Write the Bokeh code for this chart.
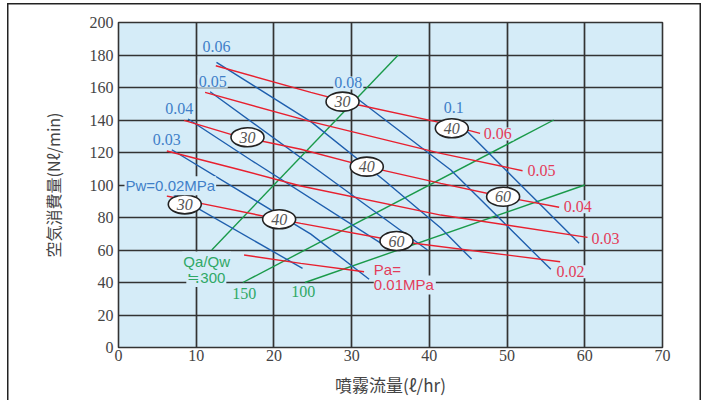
from bokeh.plotting import figure
from bokeh.models import SingleIntervalTicker, Range1d
from bokeh.embed import file_html
from bokeh.resources import INLINE
from bokeh.core.properties import value

# ---------------- data ----------------
# red lines: constant air pressure Pa (MPa)
red_06_x = [12.52, 24.75, 30.92, 40.83, 46.53]
red_06_y = [173.4, 157.0, 149.2, 139.0, 131.8]
red_05_x = [11.14, 24.75, 41.47, 51.99]
red_05_y = [157.0, 139.0, 119.5, 108.8]
red_04_x = [8.44, 14.67, 23.46, 31.95, 41.47, 49.49, 56.70]
red_04_y = [139.8, 130.8, 122.0, 111.3, 101.0, 92.8, 86.3]
red_03_x = [6.22, 15.74, 23.46, 41.47, 60.35]
red_03_y = [120.9, 109.2, 99.4, 81.5, 67.8]
red_02_x = [6.22, 10.59, 20.67, 23.46, 35.77, 56.83]
red_02_y = [93.2, 88.7, 78.9, 76.4, 65.5, 52.8]
red_01_x = [16.16, 23.46, 31.60]
red_01_y = [56.9, 51.8, 46.6]

# blue lines: constant water pressure Pw (MPa)
blue_02_x = [6.73, 23.68]
blue_02_y = [95.1, 48.7]
blue_03_x = [6.86, 24.75, 32.25]
blue_03_y = [121.7, 69.8, 42.0]
blue_04_x = [8.96, 17.02, 34.40]
blue_04_y = [140.6, 115.4, 62.2]
blue_05_x = [11.79, 27.71, 39.76]
blue_05_y = [157.4, 102.0, 60.0]
blue_06_x = [12.61, 24.75, 34.14, 41.47, 45.43]
blue_06_y = [175.5, 139.0, 103.1, 73.5, 54.4]
blue_08_x = [30.96, 42.76, 55.63]
blue_08_y = [152.3, 109.2, 48.1]
blue_10_x = [44.91, 59.27]
blue_10_y = [132.8, 64.1]

# green lines: Qa/Qw ratio
green_300_x = [12, 36]
green_300_y = [60, 180]
green_150_x = [16, 56]
green_150_y = [40, 140]
green_100_x = [24, 60]
green_100_y = [40, 100]

# spray angle tags
tag_text = ["30", "40", "30", "40", "60", "30", "40", "60"]
tag_x = [28.83, 42.89, 16.60, 31.95, 49.49, 8.53, 20.67, 35.77]
tag_y = [151.3, 134.9, 129.4, 111.3, 92.8, 88.1, 78.9, 65.5]

# numeric line labels
blue_num_text = ["0.03", "0.04", "0.05", "0.06", "0.08", "0.1"]
blue_num_x = [6.22, 7.82, 12.13, 12.62, 29.57, 43.15]
blue_num_y = [128.3, 146.8, 163.9, 185.5, 162.8, 148.0]
red_num_text = ["0.06", "0.05", "0.04", "0.03", "0.02"]
red_num_x = [47.0, 52.63, 57.3, 60.87, 56.36]
red_num_y = [131.4, 109.2, 86.6, 67.2, 46.6]
green_num_text = ["150", "100"]
green_num_x = [16.19, 23.78]
green_num_y = [33.2, 34.5]

# word captions
blue_cap_text = ["Pw=0.02MPa"]
blue_cap_x = [6.67]
blue_cap_y = [99.5]
red_cap_text = ["Pa=", "0.01MPa"]
red_cap_x = [32.85, 32.85]
red_cap_y = [48.3, 38.5]
green_cap_text = ["Qa/Qw", "≒300"]
green_cap_x = [11.35, 11.3]
green_cap_y = [53.2, 43.1]

x_title = "噴霧流量(ℓ/hr)"
y_title = "空気消費量(Nℓ/min)"

# ---------------- styles ----------------
BG = "#d5ecf8"
FONT = "Liberation Sans Narrow"
WFONT = "Liberation Sans"
CJK = "Noto Sans CJK JP"
BLUE = "#1f5fae"
BLUE_T = "#3f7fc8"
RED = "#e8202f"
RED_T = "#e33c5a"
GREEN = "#1a9a4a"
GREEN_T = "#2fa866"

p = figure(width=701, height=400, x_range=Range1d(0, 70), y_range=Range1d(0, 200),
           output_backend="svg", toolbar_location=None,
           min_border_left=118, min_border_right=39, min_border_top=22, min_border_bottom=53)
p.styles = {"box-shadow": "inset 7px 3px 0 0 #ffffff, inset 8.5px 4.5px 0 0 #222222, inset -1.5px 0 0 0 #222222"}
p.background_fill_color = BG
p.border_fill_color = None
p.outline_line_color = "#333"
p.outline_line_width = 1.6

p.xaxis.ticker = SingleIntervalTicker(interval=10)
p.yaxis.ticker = SingleIntervalTicker(interval=20)
p.xgrid.ticker = SingleIntervalTicker(interval=10)
p.ygrid.ticker = SingleIntervalTicker(interval=20)
for g in (p.xgrid, p.ygrid):
    g.grid_line_color = "#333"
    g.grid_line_width = 1.7
for ax in (p.xaxis, p.yaxis):
    ax.axis_line_color = None
    ax.major_tick_line_color = None
    ax.minor_tick_line_color = None
    ax.major_tick_out = 0
    ax.major_tick_in = 0
    ax.minor_tick_out = 0
    ax.major_label_text_font = FONT
    ax.major_label_text_font_size = "16px"
    ax.major_label_text_color = "#444"
    ax.axis_label_text_font = CJK
    ax.axis_label_text_font_style = "normal"
    ax.axis_label_text_color = "#444"
p.xaxis.axis_label = x_title
p.yaxis.axis_label = y_title
p.xaxis.axis_label_text_font_size = "17px"
p.yaxis.axis_label_text_font_size = "16px"
p.xaxis.major_label_standoff = 2
p.yaxis.major_label_standoff = 5
p.xaxis.axis_label_standoff = 8
p.yaxis.axis_label_standoff = 22

for xs, ys in [(green_300_x, green_300_y), (green_150_x, green_150_y), (green_100_x, green_100_y)]:
    p.line(xs, ys, line_color=GREEN, line_width=1.4)
for xs, ys in [(blue_02_x, blue_02_y), (blue_03_x, blue_03_y), (blue_04_x, blue_04_y),
               (blue_05_x, blue_05_y), (blue_06_x, blue_06_y), (blue_08_x, blue_08_y),
               (blue_10_x, blue_10_y)]:
    p.line(xs, ys, line_color=BLUE, line_width=1.4)
for xs, ys in [(red_06_x, red_06_y), (red_05_x, red_05_y), (red_04_x, red_04_y),
               (red_03_x, red_03_y), (red_02_x, red_02_y), (red_01_x, red_01_y)]:
    p.line(xs, ys, line_color=RED, line_width=1.4)

p.ellipse(x=tag_x, y=tag_y, width=33, height=19, width_units="screen", height_units="screen",
          fill_color="white", line_color="#222", line_width=1.6)
p.text(x=tag_x, y=tag_y, text=tag_text, text_align="center", text_baseline="middle",
       text_font=value(FONT), text_font_style="italic", text_font_size="16px", text_color="#555")

def add_labels(texts, xs, ys, color, align, font, size):
    # background patch that hides the grid behind the label
    p.text(x=xs, y=ys, text=texts, text_align=align, text_baseline="middle",
           text_font=value(font), text_font_size=size, text_color=None,
           background_fill_color=BG, padding=1)
    p.text(x=xs, y=ys, text=texts, text_align=align, text_baseline="middle",
           text_font=value(font), text_font_size=size, text_color=color)

add_labels(blue_num_text, blue_num_x, blue_num_y, BLUE_T, "center", FONT, "16px")
add_labels(red_num_text, red_num_x, red_num_y, RED_T, "left", FONT, "16px")
add_labels(green_num_text, green_num_x, green_num_y, GREEN_T, "center", FONT, "16px")
add_labels(blue_cap_text, blue_cap_x, blue_cap_y, BLUE_T, "center", WFONT, "15px")
add_labels(red_cap_text, red_cap_x, red_cap_y, RED_T, "left", WFONT, "15px")
add_labels(green_cap_text, green_cap_x, green_cap_y, GREEN_T, "center", WFONT, "15px")

open("out.html", "w").write(file_html(p, INLINE))
